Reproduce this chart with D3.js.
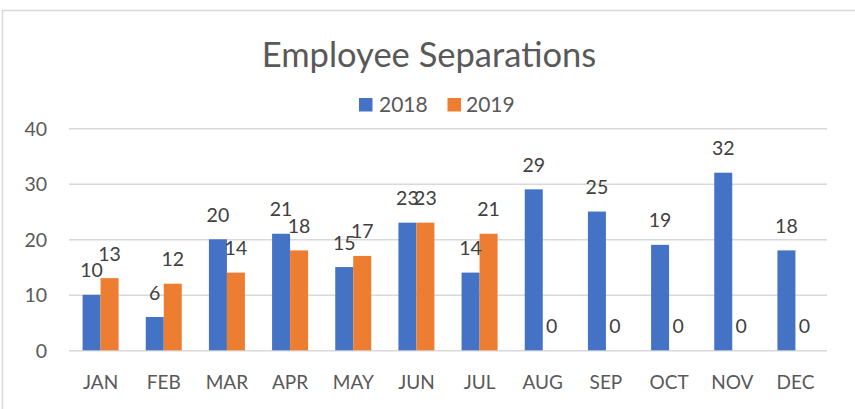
<!DOCTYPE html>
<html>
<head>
<meta charset="utf-8">
<script src="https://cdn.jsdelivr.net/npm/d3@7"></script>
<style>
  html, body { margin: 0; padding: 0; background: #fff; }
  svg { display: block; }
  text { font-family: Lato, "Open Sans", sans-serif; }
</style>
</head>
<body>
<svg id="chart" width="855" height="409"></svg>
<script>
const months = ["JAN","FEB","MAR","APR","MAY","JUN","JUL","AUG","SEP","OCT","NOV","DEC"];
const seriesNames = ["2018","2019"];
const values2018 = [10, 6, 20, 21, 15, 23, 14, 29, 25, 19, 32, 18];
const values2019 = [13, 12, 14, 18, 17, 23, 21, 0, 0, 0, 0, 0];
const yTicks = [0, 10, 20, 30, 40];
const colors = ["#4472C4", "#ED7D31"];
const title = "Employee Separations";

const W = 855, H = 409;
const plot = { left: 69, right: 827, top: 128.3, bottom: 350.3 };

const svg = d3.select("#chart");

// chart frame (only top and left edges visible in the crop)
svg.append("rect")
  .attr("x", 2.5).attr("y", 10.5)
  .attr("width", W + 20).attr("height", H + 20)
  .attr("fill", "none").attr("stroke", "#d9d9d9").attr("stroke-width", 1.5);

const y = d3.scaleLinear().domain([0, 40]).range([plot.bottom, plot.top]);
const x0 = d3.scaleBand().domain(months).range([plot.left, plot.right]).padding(0);
const groupW = 36;
const x1 = d3.scaleBand().domain(seriesNames).range([0, groupW]).padding(0);

// gridlines
const yAxis = d3.axisLeft(y).tickValues(yTicks).tickSize(-(plot.right - plot.left)).tickPadding(24);
const gy = svg.append("g").attr("transform", `translate(${plot.left},0)`).call(yAxis);
gy.select(".domain").remove();
gy.selectAll(".tick line").attr("stroke", "#d9d9d9").attr("stroke-width", 1.5);
gy.selectAll(".tick text")
  .attr("fill", "#595959").style("font-size", "19.5px")
  .attr("x", -22).attr("dy", "0.36em");

// x axis labels
const xAxis = d3.axisBottom(x0).tickSize(0).tickPadding(0);
const gx = svg.append("g").attr("transform", `translate(0,${plot.bottom})`).call(xAxis);
gx.select(".domain").remove();
gx.selectAll(".tick text")
  .attr("fill", "#595959").style("font-size", "19px")
  .attr("dy", null).attr("y", 39);

const data = months.map((m, i) => ({ month: m, vals: [values2018[i], values2019[i]] }));

const groups = svg.append("g").selectAll("g").data(data).join("g")
  .attr("transform", d => `translate(${x0(d.month) + (x0.bandwidth() - groupW) / 2},0)`);

groups.selectAll("rect").data(d => d.vals.map((v, j) => ({ key: seriesNames[j], v, j })))
  .join("rect")
  .attr("x", d => x1(d.key))
  .attr("y", d => y(d.v))
  .attr("width", x1.bandwidth())
  .attr("height", d => y(0) - y(d.v))
  .attr("fill", d => colors[d.j]);

groups.selectAll("text").data(d => d.vals.map((v, j) => ({ key: seriesNames[j], v, j })))
  .join("text")
  .attr("x", d => x1(d.key) + x1.bandwidth() / 2)
  .attr("y", d => y(d.v) - 17.5)
  .attr("text-anchor", "middle")
  .attr("fill", "#404040")
  .style("font-size", "19.5px")
  .text(d => d.v);

// title
svg.append("text")
  .attr("x", 429).attr("y", 66.7)
  .attr("text-anchor", "middle")
  .attr("fill", "#595959")
  .style("font-size", "34.5px")
  .text(title);

// legend
const legendItems = [{ name: "2018", sx: 359, tx: 379 }, { name: "2019", sx: 447.5, tx: 466 }];
const lg = svg.append("g");
legendItems.forEach((it, i) => {
  lg.append("rect").attr("x", it.sx).attr("y", 98).attr("width", 13.5).attr("height", 13.5).attr("fill", colors[i]);
  lg.append("text").attr("x", it.tx).attr("y", 112.3).attr("fill", "#595959")
    .style("font-size", "21px").text(it.name);
});
</script>
</body>
</html>
